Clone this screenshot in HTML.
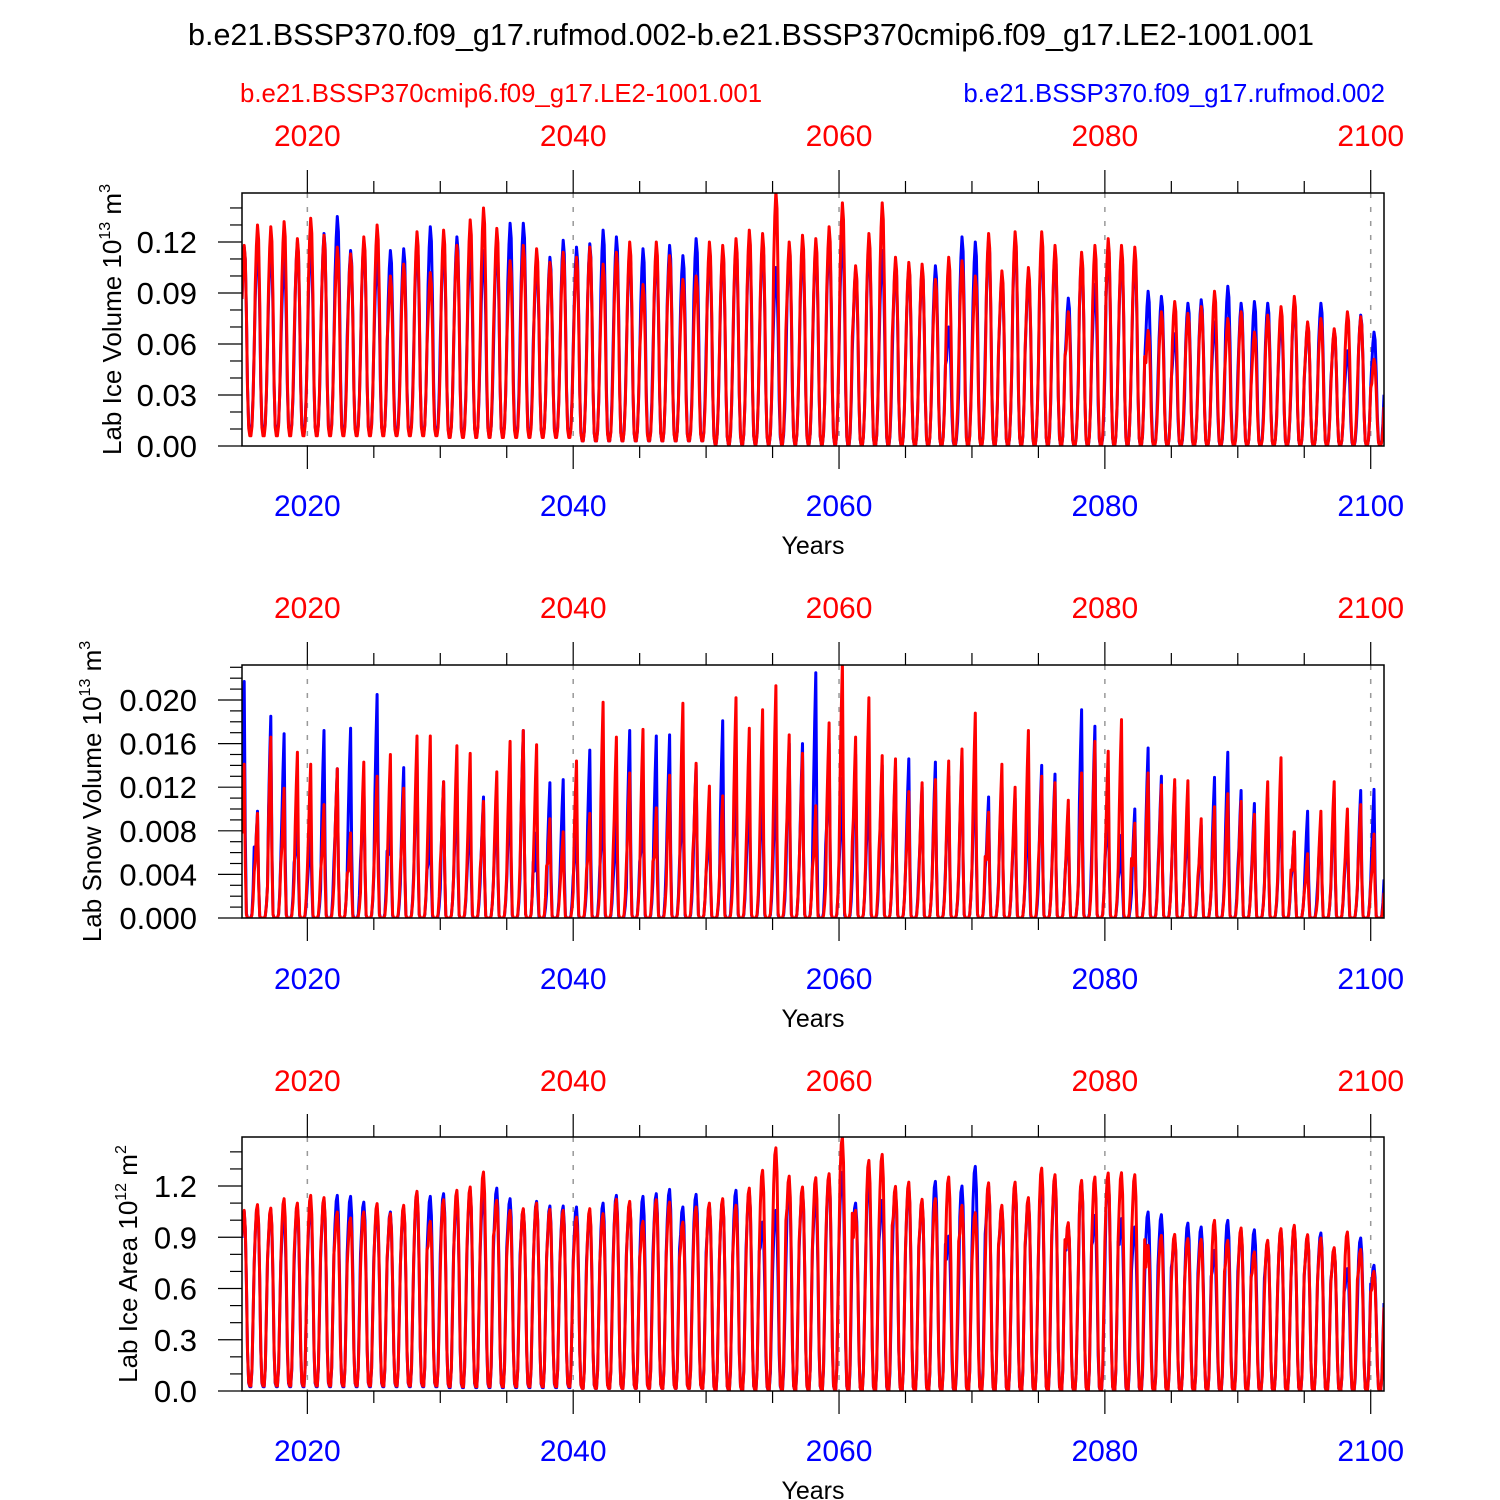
<!DOCTYPE html>
<html><head><meta charset="utf-8"><style>
html,body{margin:0;padding:0;background:#fff;}
svg{display:block;font-family:"Liberation Sans",Arial,sans-serif;}
</style></head><body>
<svg id="chart" width="1500" height="1500" viewBox="0 0 1500 1500" xmlns="http://www.w3.org/2000/svg">
<text x="751" y="45" font-size="30.5" text-anchor="middle">b.e21.BSSP370.f09_g17.rufmod.002-b.e21.BSSP370cmip6.f09_g17.LE2-1001.001</text>
<text x="240" y="102" font-size="25.8" fill="#ff0000">b.e21.BSSP370cmip6.f09_g17.LE2-1001.001</text>
<text x="1385" y="102" font-size="25.8" fill="#0000ff" text-anchor="end">b.e21.BSSP370.f09_g17.rufmod.002</text>
<g id="panels"></g>
</svg>
<script>
// Years covered (one seasonal cycle per year)
const startYear = 2015;
const endYear = 2100;
const xDomain = [2015.083, 2101.0];
const majorYears = [2020, 2040, 2060, 2080, 2100];

// Seasonal cycle shapes (fraction of annual amplitude, Jan..Dec)
const iceShape = [0.72,0.9,1.0,0.93,0.65,0.25,0.04,0,0,0.05,0.2,0.45];
const snowShape = [0.55,0.8,1.0,0.35,0.02,0,0,0,0,0.02,0.12,0.3];
const areaShape = [0.85,0.97,1.0,0.9,0.6,0.2,0.02,0,0,0.1,0.4,0.7];

// Annual peak values, 2015..2100
const iceRed = [.118,.130,.129,.132,.122,.134,.124,.117,.113,.123,
.130,.100,.107,.126,.102,.127,.118,.133,.140,.128,
.109,.118,.116,.108,.114,.111,.117,.107,.114,.120,
.095,.120,.112,.098,.100,.120,.118,.122,.127,.125,
.150,.120,.124,.122,.129,.143,.106,.125,.143,.111,
.108,.107,.098,.111,.109,.100,.125,.103,.126,.105,
.126,.118,.079,.114,.118,.122,.118,.117,.068,.079,
.085,.078,.082,.091,.075,.079,.067,.077,.082,.088,
.073,.075,.069,.079,.076,.051];
const iceBlue = [.117,.119,.118,.110,.120,.121,.125,.135,.115,.120,
.112,.115,.116,.120,.129,.120,.123,.117,.115,.120,
.131,.131,.110,.111,.121,.117,.119,.127,.123,.115,
.116,.115,.118,.112,.122,.115,.115,.118,.122,.120,
.105,.115,.118,.118,.122,.125,.104,.120,.115,.108,
.106,.105,.106,.070,.123,.120,.122,.100,.122,.102,
.120,.115,.087,.112,.095,.118,.115,.112,.091,.088,
.066,.084,.086,.073,.094,.084,.085,.084,.075,.085,
.072,.084,.068,.056,.077,.067];
const snowRed = [.0141,.0096,.0166,.0119,.0152,.0141,.0104,.0137,.0078,.0143,
.0130,.0150,.0119,.0167,.0167,.0125,.0158,.0151,.0107,.0134,
.0162,.0172,.0159,.0091,.0079,.0144,.0096,.0198,.0166,.0133,
.0173,.0101,.0131,.0197,.0142,.0121,.0112,.0202,.0174,.0191,
.0213,.0168,.0151,.0103,.0179,.0234,.0166,.0202,.0149,.0146,
.0116,.0124,.0127,.0144,.0155,.0188,.0097,.0141,.0120,.0172,
.0130,.0124,.0108,.0133,.0162,.0153,.0182,.0087,.0133,.0122,
.0127,.0126,.0091,.0102,.0114,.0107,.0095,.0125,.0147,.0079,
.0059,.0098,.0125,.0100,.0104,.0077];
const snowBlue = [.0217,.0098,.0185,.0169,.0105,.0087,.0172,.0137,.0174,.0127,
.0205,.0105,.0138,.0147,.0090,.0125,.0128,.0108,.0111,.0114,
.0120,.0172,.0078,.0124,.0127,.0093,.0154,.0114,.0093,.0172,
.0110,.0167,.0168,.0125,.0140,.0099,.0181,.0140,.0130,.0133,
.0133,.0160,.0160,.0225,.0160,.0128,.0150,.0133,.0140,.0140,
.0146,.0120,.0143,.0130,.0150,.0150,.0111,.0130,.0110,.0103,
.0140,.0132,.0100,.0191,.0176,.0120,.0076,.0100,.0156,.0130,
.0120,.0100,.0085,.0129,.0152,.0117,.0105,.0110,.0120,.0079,
.0098,.0090,.0110,.0090,.0117,.0118];
const areaRed = [1.057,1.091,1.071,1.126,1.100,1.145,1.132,1.048,1.013,1.048,
1.097,1.038,1.087,1.169,0.993,1.120,1.175,1.194,1.282,1.116,
1.057,1.067,1.100,1.063,1.057,1.018,1.067,1.038,1.122,1.110,
0.993,1.120,1.106,0.989,1.077,1.100,1.126,1.087,1.188,1.292,
1.424,1.258,1.194,1.249,1.272,1.487,1.057,1.35,1.385,1.198,
1.223,1.122,1.126,1.253,1.087,1.044,1.219,1.087,1.223,1.132,
1.305,1.266,0.985,1.233,1.253,1.276,1.278,1.266,0.853,0.911,
0.917,0.892,0.888,0.999,0.882,0.954,0.814,0.882,0.950,0.970,
0.915,0.896,0.839,0.931,0.829,0.700];
const areaBlue = [1.05,1.08,1.06,1.04,1.08,1.10,1.12,1.145,1.139,1.106,
1.07,1.048,1.07,1.155,1.139,1.155,1.135,1.175,1.17,1.188,
1.126,1.063,1.110,1.083,1.083,1.077,1.05,1.100,1.145,1.10,
1.139,1.155,1.180,1.077,1.151,1.091,1.116,1.175,1.17,0.989,
1.057,1.2,1.18,1.15,1.25,1.28,1.100,1.25,1.116,1.18,
1.2,1.11,1.227,0.907,1.200,1.315,1.2,1.07,1.2,1.12,
1.25,1.25,0.97,1.22,1.028,1.25,1.009,0.960,1.048,1.032,
0.9,0.983,0.960,0.823,0.999,0.94,0.944,0.87,0.94,0.96,
0.91,0.925,0.83,0.716,0.896,0.736];

// Seasonal minima by period (2015-19, 2020s, ... 2090s+2100)
const iceMinRed = [.006,.006,.005,.003,.001,0,0,0,0];
const iceMinBlue = [.008,.007,.006,.003,.001,0,0,0,0];
const snowMinRed = [0,0,0,0,0,0,0,0,0];
const snowMinBlue = [0,0,0,0,0,0,0,0,0];
const areaMinRed = [.03,.03,.025,.015,.005,0,0,0,0];
const areaMinBlue = [.025,.025,.02,.015,.005,0,0,0,0];

// Y tick labels per panel
const iceTicks = ["0.00","0.03","0.06","0.09","0.12"];
const snowTicks = ["0.000","0.004","0.008","0.012","0.016","0.020"];
const areaTicks = ["0.0","0.3","0.6","0.9","1.2"];

const NS = "http://www.w3.org/2000/svg";
const X0 = 242, X1 = 1384;
function xs(t){ return X0 + (t - xDomain[0]) / (xDomain[1] - xDomain[0]) * (X1 - X0); }
function mk(tag, attrs, parent){
  const e = document.createElementNS(NS, tag);
  for (const k in attrs) e.setAttribute(k, attrs[k]);
  parent.appendChild(e); return e;
}
function periodIndex(y){ return y < 2020 ? 0 : Math.min(8, Math.floor((y - 2010) / 10)); }

function buildPath(peaks, mins, shape, ys){
  let d = "";
  for (let i = 0; i <= endYear - startYear; i++){
    const yr = startYear + i;
    const mn = mins[periodIndex(yr)];
    for (let m = 0; m < 12; m++){
      const v = mn + (peaks[i] - mn) * shape[m];
      const t = yr + (m + 1) / 12;
      d += (d ? "L" : "M") + xs(t).toFixed(1) + "," + ys(v).toFixed(1);
    }
  }
  return d;
}

const panels = [
  {key:"ice", top:193, bot:446, ymax:0.1488, step:0.03, minor:0.01, ticks:iceTicks, red:iceRed, blue:iceBlue, minR:iceMinRed, minB:iceMinBlue, shape:iceShape, titleX:112, title:["Lab Ice Volume 10","13"," m","3"], topLab:135, botLab:505, yrs:545},
  {key:"snow", top:665, bot:918, ymax:0.02321, step:0.004, minor:0.001, ticks:snowTicks, red:snowRed, blue:snowBlue, minR:snowMinRed, minB:snowMinBlue, shape:snowShape, titleX:92, title:["Lab Snow Volume 10","13"," m","3"], topLab:607, botLab:978, yrs:1018},
  {key:"area", top:1137, bot:1391, ymax:1.487, step:0.3, minor:0.1, ticks:areaTicks, red:areaRed, blue:areaBlue, minR:areaMinRed, minB:areaMinBlue, shape:areaShape, titleX:128, title:["Lab Ice Area 10","12"," m","2"], topLab:1080, botLab:1450, yrs:1490}
];

const root = document.getElementById("panels");
panels.forEach(function(p){
  const g = mk("g", {}, root);
  
  
  const ys = function(v){ return p.bot - v / p.ymax * (p.bot - p.top); };
  const cp = mk("clipPath", {id:"clip-" + p.key}, g);
  mk("rect", {x:X0, y:p.top, width:X1 - X0, height:p.bot - p.top}, cp);
  majorYears.forEach(function(yr){
    const gl = mk("line", {x1:xs(yr), x2:xs(yr), y1:p.top, y2:p.bot, stroke:"#999", "stroke-width":1.5, "stroke-dasharray":"5,9"}, g);
    
    
  });
  const lb = mk("path", {d:buildPath(p.blue, p.minB, p.shape, ys), fill:"none", stroke:"#0000ff", "stroke-width":3, "stroke-linejoin":"round", "clip-path":"url(#clip-" + p.key + ")"}, g);
  
  
  const lr = mk("path", {d:buildPath(p.red, p.minR, p.shape, ys), fill:"none", stroke:"#ff0000", "stroke-width":3, "stroke-linejoin":"round", "clip-path":"url(#clip-" + p.key + ")"}, g);
  
  
  const fr = mk("rect", {x:X0, y:p.top, width:X1 - X0, height:p.bot - p.top, fill:"none", stroke:"#000", "stroke-width":1.5}, g);
  
  
  for (let yr = 2020; yr <= 2100; yr += 5){
    const major = majorYears.indexOf(yr) >= 0;
    const L = major ? 23 : 12;
    mk("line", {x1:xs(yr), x2:xs(yr), y1:p.top, y2:p.top - L, stroke:"#000", "stroke-width":1.2}, g);
    mk("line", {x1:xs(yr), x2:xs(yr), y1:p.bot, y2:p.bot + L, stroke:"#000", "stroke-width":1.2}, g);
  }
  majorYears.forEach(function(yr){
    const tt = mk("text", {x:xs(yr), y:p.topLab + 11, "font-size":30, fill:"#ff0000", "text-anchor":"middle"}, g);
    tt.textContent = String(yr);
    
    
    const tb = mk("text", {x:xs(yr), y:p.botLab + 11, "font-size":30, fill:"#0000ff", "text-anchor":"middle"}, g);
    tb.textContent = String(yr);
    
    
  });
  const xt = mk("text", {x:813, y:p.yrs + 9, "font-size":25, "text-anchor":"middle"}, g);
  xt.textContent = "Years";
  
  
  for (let v = 0; v <= p.ymax + 1e-9; v += p.minor){
    const r = v / p.step;
    const major = Math.abs(r - Math.round(r)) < 1e-6;
    const y = ys(v);
    mk("line", {x1:X0, x2:X0 - (major ? 24 : 12), y1:y, y2:y, stroke:"#000", "stroke-width":1.2}, g);
  }
  p.ticks.forEach(function(lab, i){
    const tl = mk("text", {x:197, y:ys(i * p.step) + 11, "font-size":31, "text-anchor":"end"}, g);
    tl.textContent = lab;
    
    
  });
  const cy = (p.top + p.bot) / 2;
  const yt = mk("text", {x:0, y:0, "font-size":26, "text-anchor":"middle", transform:"translate(" + (p.titleX + 9) + "," + cy + ") rotate(-90)"}, g);
  
  
  const t1 = mk("tspan", {}, yt); t1.textContent = p.title[0];
  const t2 = mk("tspan", {"font-size":16, dy:-11}, yt); t2.textContent = p.title[1];
  const t3 = mk("tspan", {dy:11}, yt); t3.textContent = p.title[2];
  const t4 = mk("tspan", {"font-size":16, dy:-11}, yt); t4.textContent = p.title[3];
});
</script>
</body></html>
